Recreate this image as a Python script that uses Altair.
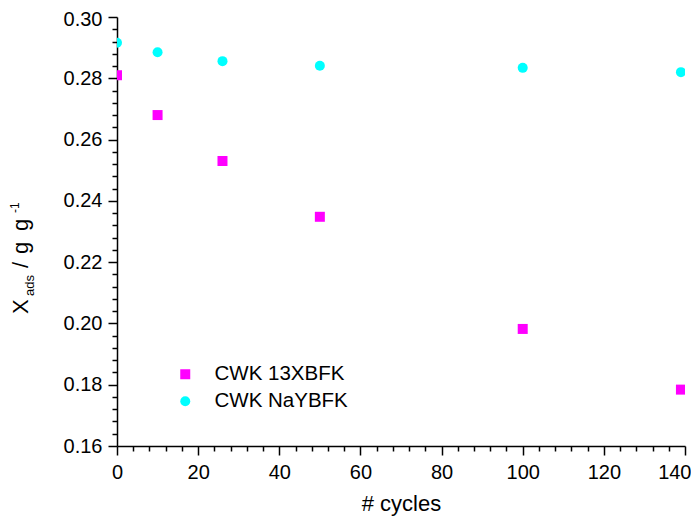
import altair as alt
import pandas as pd

# ---- data ----
series_names = ["CWK 13XBFK", "CWK NaYBFK"]
cycles_13x = [0, 10, 26, 50, 100, 139]
xads_13x = [0.2810, 0.2680, 0.2530, 0.2348, 0.1982, 0.1784]
cycles_nay = [0, 10, 26, 50, 100, 139]
xads_nay = [0.2916, 0.2885, 0.2856, 0.2841, 0.2834, 0.2820]

x_major = [0, 20, 40, 60, 80, 100, 120, 140]
x_minor = [v for v in range(0, 141, 4) if v % 20 != 0]
y_major = [0.16, 0.18, 0.20, 0.22, 0.24, 0.26, 0.28, 0.30]
y_minor = [round(0.16 + 0.004 * i, 3) for i in range(36) if i % 5 != 0]

x_title = "# cycles"
y_title_parts = ["X", "ads", "/", "g", "g", "-1"]

df = pd.DataFrame({
    "cycles": cycles_13x + cycles_nay,
    "xads": xads_13x + xads_nay,
    "series": [series_names[0]] * len(cycles_13x) + [series_names[1]] * len(cycles_nay),
})

FONT = "Liberation Sans"
xscale = alt.Scale(domain=[0, 140], nice=False, zero=False)
yscale = alt.Scale(domain=[0.16, 0.30], nice=False, zero=False)

base = alt.Chart(df)

last_x = "datum.value == 140"
top_y = "datum.value > 0.299"

points = base.mark_point(filled=True, opacity=1, size=100, clip=True, strokeWidth=0).encode(
    x=alt.X("cycles:Q", scale=xscale,
            axis=alt.Axis(values=x_major, title=x_title, orient="bottom", format="d",
                          tickSize=9, labelPadding=7, titlePadding=11, titleFontSize=22,
                          titleFontWeight="normal",
                          labelAlign=alt.condition(last_x, alt.value("right"), alt.value("center")),
                          labelOffset=alt.condition(last_x, alt.value(6), alt.value(0)))),
    y=alt.Y("xads:Q", scale=yscale,
            axis=alt.Axis(values=y_major, title=None, orient="left", format=".2f",
                          tickSize=9, labelPadding=6,
                          labelOffset=alt.condition(top_y, alt.value(2), alt.value(0)))),
    color=alt.Color("series:N", scale=alt.Scale(domain=series_names, range=["#FF00FF", "#00FFFF"]),
                    legend=alt.Legend(title=None)),
    shape=alt.Shape("series:N", scale=alt.Scale(domain=series_names, range=["square", "circle"]),
                    legend=alt.Legend(title=None)),
)

minor = base.mark_point(opacity=0).encode(
    x=alt.X("cycles:Q", scale=xscale,
            axis=alt.Axis(values=x_minor, labels=False, title=None, orient="bottom",
                          tickSize=5, domain=False)),
    y=alt.Y("xads:Q", scale=yscale,
            axis=alt.Axis(values=y_minor, labels=False, title=None, orient="left",
                          tickSize=5, domain=False)),
)

tdf = pd.DataFrame({"t": [0]})


def piece(txt, size, px, py):
    return alt.Chart(tdf).mark_text(
        angle=270, align="left", baseline="alphabetic", font=FONT, fontSize=size, color="black"
    ).encode(x=alt.value(px), y=alt.value(py), text=alt.value(txt))


title_layers = [
    piece(y_title_parts[0], 22, -89, 297),
    piece(y_title_parts[1], 13, -83, 279),
    piece(y_title_parts[2], 22, -89, 251),
    piece(y_title_parts[3], 22, -89, 237),
    piece(y_title_parts[4], 22, -89, 214),
    piece(y_title_parts[5], 12, -98, 196),
]

chart = alt.layer(minor, points, *title_layers).resolve_axis(
    x="independent", y="independent"
).properties(
    width=568, height=429,
    autosize=alt.AutoSizeParams(type="none"),
    padding={"left": 109, "top": 9, "right": 6, "bottom": 72},
).configure_view(stroke=None).configure_axis(
    grid=False, labelFont=FONT, titleFont=FONT, labelFontSize=20, labelColor="black",
    titleColor="black", domainColor="black", tickColor="black", domainWidth=1.5, tickWidth=1.5,
).configure_legend(
    orient="none", legendX=58, legendY=347, padding=0, labelFont=FONT, labelFontSize=20.5,
    labelColor="black", symbolSize=100, labelOffset=19, rowPadding=6, symbolStrokeWidth=0,
)

chart.save("out.html", embed_options={"renderer": "svg", "actions": False})
